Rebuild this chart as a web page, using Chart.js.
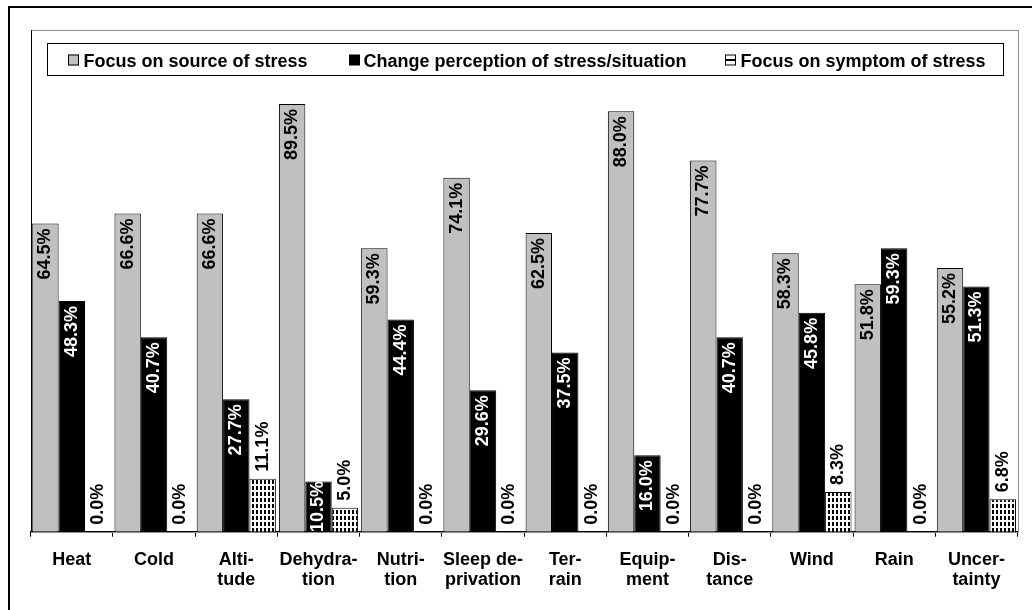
<!DOCTYPE html>
<html>
<head>
<meta charset="utf-8">
<script src="https://cdn.jsdelivr.net/npm/chart.js@4/dist/chart.umd.min.js"></script>
<style>
html,body{margin:0;padding:0;background:#fff;}
#wrap{position:relative;width:1032px;height:610px;}
canvas{display:block;}
</style>
</head>
<body>
<div id="wrap"><canvas id="c" width="1032" height="610"></canvas></div>
<script>
// ---- data ----
const categories = [["Heat"], ["Cold"], ["Alti-", "tude"], ["Dehydra-", "tion"], ["Nutri-", "tion"],
  ["Sleep de-", "privation"], ["Ter-", "rain"], ["Equip-", "ment"], ["Dis-", "tance"], ["Wind"], ["Rain"], ["Uncer-", "tainty"]];
const seriesNames = ["Focus on source of stress", "Change perception of stress/situation", "Focus on symptom of stress"];
const sourceValues     = [64.5, 66.6, 66.6, 89.5, 59.3, 74.1, 62.5, 88.0, 77.7, 58.3, 51.8, 55.2];
const perceptionValues = [48.3, 40.7, 27.7, 10.5, 44.4, 29.6, 37.5, 16.0, 40.7, 45.8, 59.3, 51.3];
const symptomValues    = [0.0, 0.0, 11.1, 5.0, 0.0, 0.0, 0.0, 0.0, 0.0, 8.3, 0.0, 6.8];
const yMin = 0, yMax = 105;

const FONT = '"Liberation Sans", Arial, Helvetica, sans-serif';
const canvas = document.getElementById('c');
const ctx = canvas.getContext('2d');

function makePattern() {
  const t = document.createElement('canvas');
  t.width = 4; t.height = 6;
  const g = t.getContext('2d');
  g.fillStyle = '#fff'; g.fillRect(0, 0, 4, 6);
  g.fillStyle = '#000'; g.fillRect(0, 0, 2, 4);
  return ctx.createPattern(t, 'repeat');
}
const stripe = makePattern();

const framePlugin = {
  id: 'frame',
  beforeDatasetsDraw(chart) {
    const a = chart.chartArea, c = chart.ctx;
    c.save();
    c.strokeStyle = '#8c8c8c'; c.lineWidth = 1;
    c.strokeRect(Math.round(a.left) + 0.5, Math.round(a.top) + 0.5, Math.round(a.right - a.left), Math.round(a.bottom - a.top));
    c.strokeStyle = '#000';
    c.beginPath();
    c.moveTo(Math.round(a.left) + 0.5, a.top);
    c.lineTo(Math.round(a.left) + 0.5, a.bottom);
    c.stroke();
    c.restore();
  },
  afterDatasetsDraw(chart) {
    const c = chart.ctx;
    c.save();
    c.font = 'bold 18px ' + FONT;
    chart.data.datasets.forEach((ds, i) => {
      const meta = chart.getDatasetMeta(i);
      meta.data.forEach((bar, j) => {
        const v = ds.data[j];
        const txt = v.toFixed(1) + '%';
        const w = c.measureText(txt).width;
        const top = bar.y, base = bar.base;
        let ay, align, color;
        if (i < 2) {
          const h = base - top;
          if (w + 10 <= h) { ay = top + 5; align = 'right'; }
          else { ay = (top + base) / 2; align = 'center'; }
          color = i === 0 ? '#000' : '#fff';
        } else {
          ay = top - 7; align = 'left'; color = '#000';
        }
        c.save();
        c.translate(bar.x, ay);
        c.rotate(-Math.PI / 2);
        c.textAlign = align;
        c.textBaseline = 'middle';
        c.fillStyle = color;
        c.fillText(txt, 0, 0);
        c.restore();
      });
    });
    c.restore();
  },
  afterDraw(chart) {
    const c = chart.ctx;
    c.save();
    // outer frame
    c.strokeStyle = '#000'; c.lineWidth = 2;
    c.beginPath();
    c.moveTo(9, 612); c.lineTo(9, 7); c.lineTo(1034, 7);
    c.stroke();
    // legend box
    c.fillStyle = '#fff';
    c.fillRect(47.5, 43.5, 956, 32);
    c.lineWidth = 1; c.strokeStyle = '#000';
    c.strokeRect(47.5, 43.5, 956, 32);
    const items = [
      {mx: 68, tx: 83.5},
      {mx: 349, tx: 363.5},
      {mx: 725, tx: 740.5}
    ];
    const by = 66.5;
    c.font = 'bold 18px ' + FONT;
    c.textBaseline = 'alphabetic';
    c.textAlign = 'left';
    items.forEach((it, k) => {
      const x = it.mx, y = 54.5, s = 11;
      if (k === 0) { c.fillStyle = '#c0c0c0'; c.fillRect(x, y, s, s); c.strokeStyle = '#000'; c.strokeRect(x + 0.5, y + 0.5, s - 1, s - 1); }
      else if (k === 1) { c.fillStyle = '#000'; c.fillRect(x, y, s, s); }
      else {
        c.fillStyle = '#fff'; c.fillRect(x, y, s, s);
        c.strokeStyle = '#000'; c.strokeRect(x + 0.5, y + 0.5, s - 1, s - 1);
        c.fillStyle = '#000'; c.fillRect(x, y + 4.5, s, 2);
      }
      c.fillStyle = '#000';
      c.fillText(seriesNames[k], it.tx, by);
    });
    c.restore();
  }
};

new Chart(ctx, {
  type: 'bar',
  data: {
    labels: categories,
    datasets: [
      {label: seriesNames[0], data: sourceValues, backgroundColor: '#c0c0c0', borderColor: '#000', borderWidth: 1},
      {label: seriesNames[1], data: perceptionValues, backgroundColor: '#000', borderColor: '#000', borderWidth: 1},
      {label: seriesNames[2], data: symptomValues, backgroundColor: stripe, borderColor: '#000', borderWidth: 1}
    ]
  },
  options: {
    responsive: false,
    animation: false,
    devicePixelRatio: 1,
    layout: {padding: {left: 30.7, right: 14.5, top: 30, bottom: 0}},
    datasets: {bar: {categoryPercentage: 0.963, barPercentage: 1.0, borderSkipped: 'bottom'}},
    plugins: {legend: {display: false}, tooltip: {enabled: false}},
    scales: {
      x: {
        grid: {display: true, drawOnChartArea: false, drawTicks: true, tickLength: 5, color: '#000', lineWidth: 1, offset: true},
        border: {display: true, color: '#000', width: 1},
        ticks: {color: '#000', autoSkip: false, maxRotation: 0, minRotation: 0, padding: 12.6,
                font: {family: FONT, size: 18, weight: 'bold', lineHeight: 1.15}},
        afterFit(s) { s.height = 78.3; }
      },
      y: {display: false, min: yMin, max: yMax}
    }
  },
  plugins: [framePlugin]
});
</script>
</body>
</html>
